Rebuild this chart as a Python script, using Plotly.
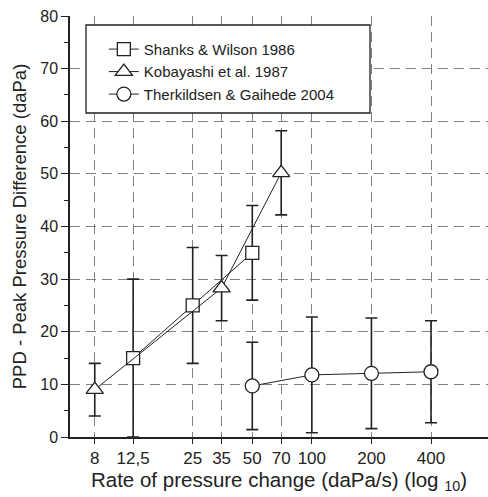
import plotly.graph_objects as go

# Shanks & Wilson 1986
sw_x = [12.5, 25, 50]
sw_y = [15, 25, 35]
sw_err = [15, 11, 9]

# Kobayashi et al. 1987
kb_x = [8, 35, 70]
kb_y = [9, 28.3, 50.2]
kb_err = [5, 6.2, 8]

# Therkildsen & Gaihede 2004
tg_x = [50, 100, 200, 400]
tg_y = [9.7, 11.8, 12.1, 12.4]
tg_err = [8.3, 11.0, 10.5, 9.7]

tick_vals = [8, 12.5, 25, 35, 50, 70, 100, 200, 400]
tick_text = ["8", "12,5", "25", "35", "50", "70", "100", "200", "400"]

ink = "#222222"
FONT = "Arial, Liberation Sans, sans-serif"

def series(x, y, err, name, symbol, size):
    return go.Scatter(
        x=x, y=y, name=name, mode="lines+markers",
        line=dict(color=ink, width=1),
        marker=dict(symbol=symbol, size=size, color="white",
                    line=dict(color=ink, width=1.3)),
        error_y=dict(type="data", array=err, visible=True,
                     color=ink, thickness=1.6, width=6),
    )

fig = go.Figure()
fig.add_trace(series(sw_x, sw_y, sw_err, "Shanks & Wilson 1986", "square", 13))
fig.add_trace(series(kb_x, kb_y, kb_err, "Kobayashi et al. 1987", "triangle-up", 15))
fig.add_trace(series(tg_x, tg_y, tg_err, "Therkildsen & Gaihede 2004", "circle", 14))

grid = dict(showgrid=True, gridcolor="#808080", gridwidth=1, griddash="10px,6px")

fig.update_layout(
    width=488, height=497,
    margin=dict(l=70, r=0, t=16, b=60),
    paper_bgcolor="white", plot_bgcolor="white",
    font=dict(family=FONT, color=ink, size=15),
    showlegend=True,
    legend=dict(x=0.081, y=0.96, xanchor="left", yanchor="top",
                bgcolor="rgba(0,0,0,0)", borderwidth=0,
                font=dict(size=15, family=FONT, color=ink),
                tracegroupgap=0),
    xaxis=dict(type="log", range=[0.778, 2.89],
               tickvals=tick_vals, ticktext=tick_text,
               ticks="outside", ticklen=5, tickwidth=1.3, tickcolor=ink,
               showline=True, linecolor=ink, linewidth=1.5,
               zeroline=False, tickfont=dict(size=17),
               title=dict(text="Rate of pressure change (daPa/s) (log <sub>10</sub>)",
                          font=dict(size=20.5), standoff=5),
               **grid),
    yaxis=dict(range=[0, 80], tickvals=[0, 10, 20, 30, 40, 50, 60, 70, 80],
               ticks="outside", ticklen=7, tickwidth=1.3, tickcolor=ink,
               showline=True, linecolor=ink, linewidth=1.5,
               zeroline=False, tickfont=dict(size=16),
               minor=dict(dtick=5, ticks="outside", ticklen=4, tickcolor=ink,
                          showgrid=False),
               title=dict(text="PPD - Peak Pressure Difference (daPa)",
                          font=dict(size=18.5), standoff=9),
               **grid),
)

fig.add_shape(type="rect", xref="paper", yref="paper",
              x0=(86 - 70) / 418, x1=(370 - 70) / 418,
              y0=(437 - 113) / 421, y1=(437 - 25) / 421,
              fillcolor="white", line=dict(color=ink, width=1.3), layer="above")

fig.write_html("out.html", config={"displayModeBar": False},
               post_script="document.body.style.margin='0';")
